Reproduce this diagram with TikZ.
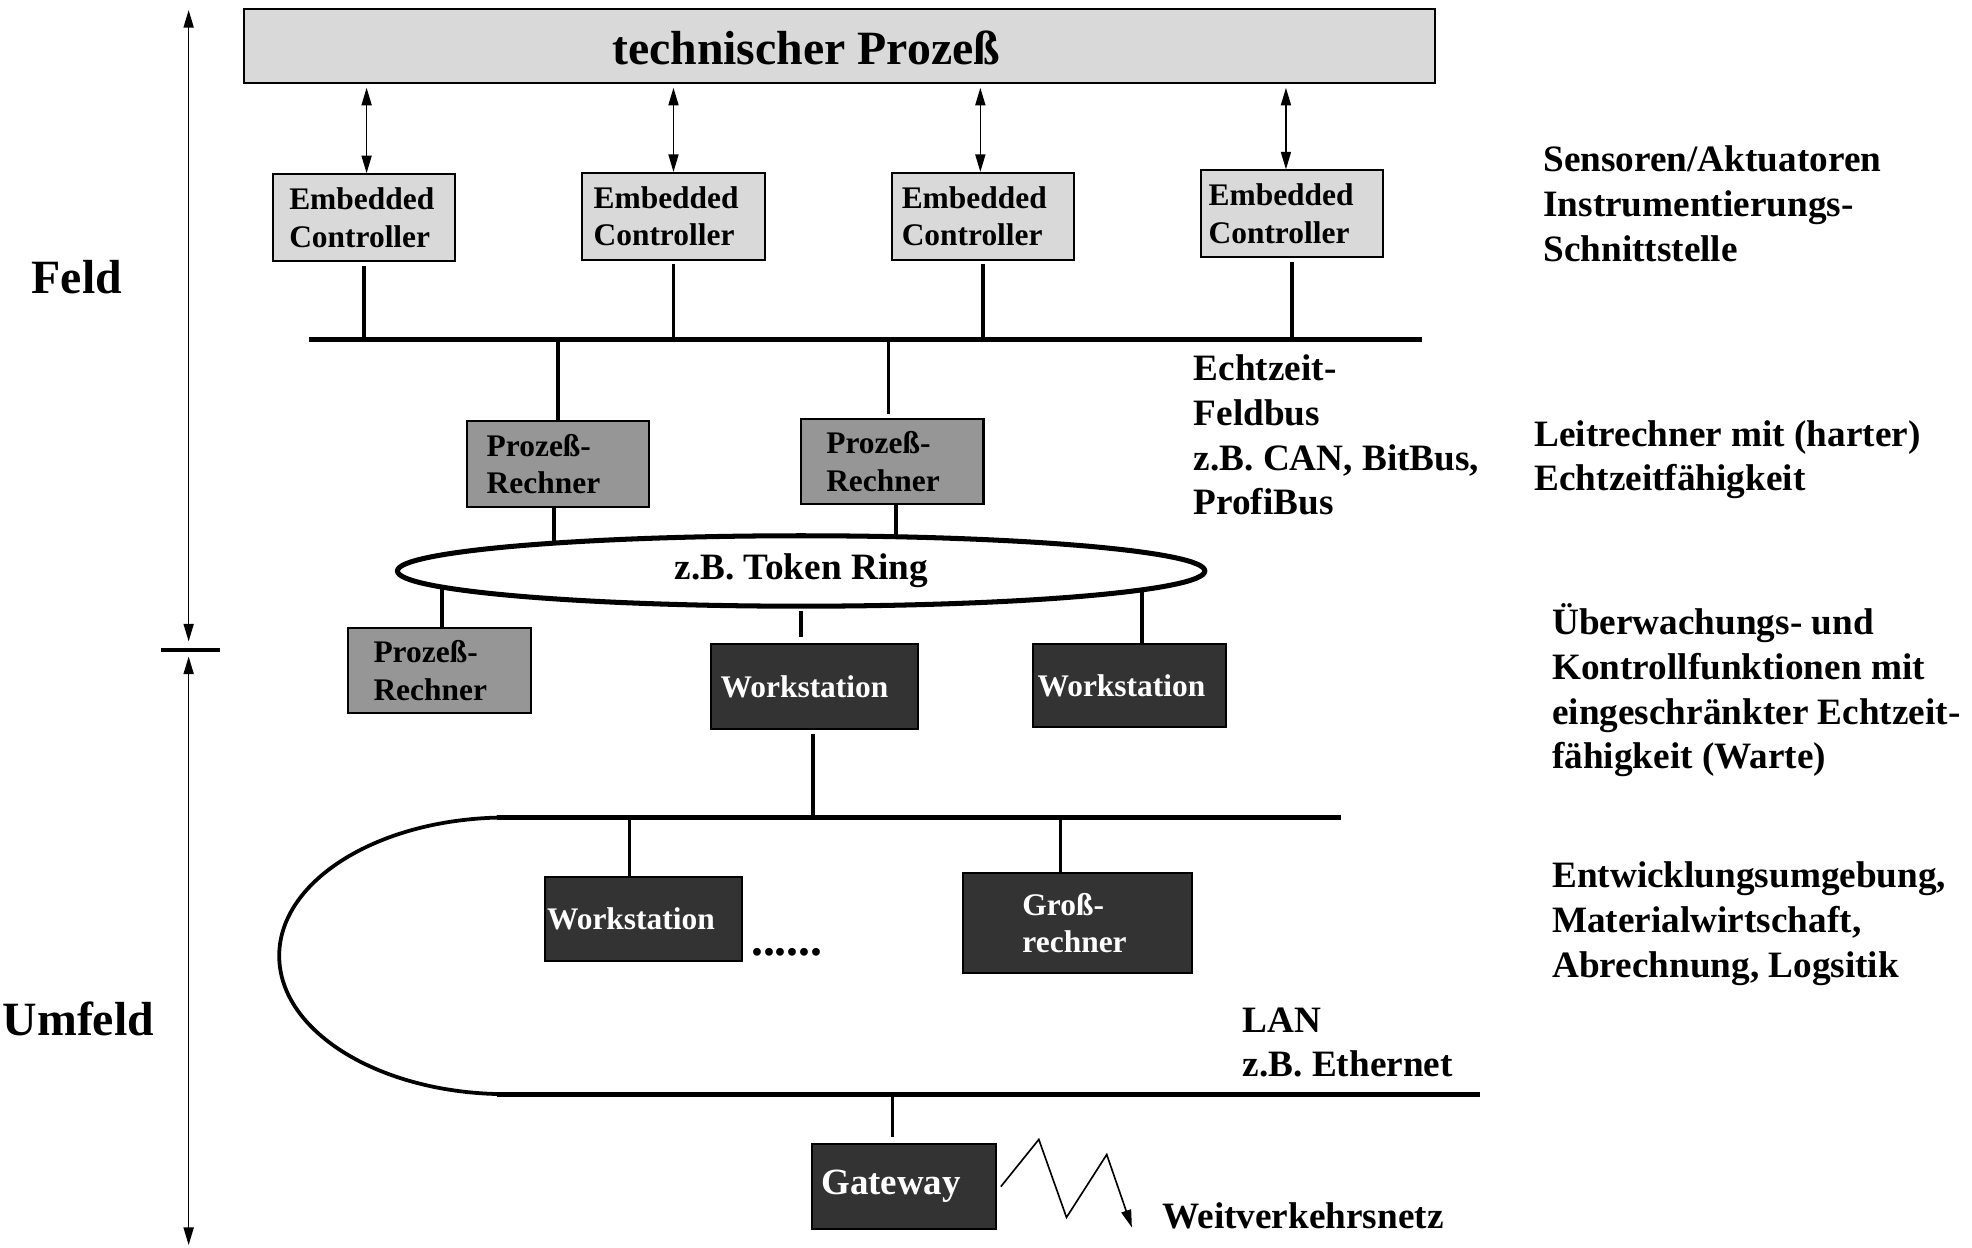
\documentclass[tikz,border=0pt]{standalone}
\usepackage{fontspec}
\setmainfont{Liberation Serif}
\usepackage{xcolor}
\usepackage{tikz}
\usetikzlibrary{shapes.geometric, arrows.meta}
\pgfdeclarelayer{hinten}
\pgfsetlayers{hinten,main}
\definecolor{hellgrau}{HTML}{D9D9D9}
\definecolor{mittelgrau}{HTML}{969696}
\definecolor{dunkelgrau}{HTML}{333333}
\tikzstyle{box} = [draw, line width=1.6pt, inner ysep=0pt, align=left, font=\fontsize{25}{30}\selectfont\bfseries]
\tikzstyle{ecbox} = [box, fill=hellgrau, minimum height=69pt]
\tikzstyle{prbox} = [box, fill=mittelgrau, minimum height=68pt]
\tikzstyle{wsbox} = [box, fill=dunkelgrau, text=white]
\tikzstyle{bus} = [line width=4pt]
\tikzstyle{conn} = [line width=3pt]
\tikzstyle{thinconn} = [line width=2.4pt]
\tikzstyle{darrow} = [line width=1.3pt, {Triangle[length=14pt,width=8pt]}-{Triangle[length=14pt,width=8pt]}]
\tikzstyle{txt} = [anchor=west, align=left, inner sep=0pt, font=\fontsize{29.6}{35.5}\selectfont\bfseries]
\tikzstyle{bigtxt} = [anchor=west, inner sep=0pt, font=\fontsize{38}{45}\selectfont\bfseries]

\begin{document}
\begin{tikzpicture}[x=1pt, y=-1pt]
    \useasboundingbox (0,0) rectangle (1568,992);
    % Feld / Umfeld
    \coordinate (feldtop) at (150,8);
    \coordinate (feldbot) at (150,510);
    \coordinate (umtop) at (150,522);
    \coordinate (umbot) at (150,990);
    \coordinate (trenn-l) at (128,517);
    \coordinate (trenn-r) at (175,517);
    \draw[darrow] (feldtop) -- (feldbot);
    \draw[darrow] (umtop) -- (umbot);
    \draw[line width=3pt] (trenn-l) -- (trenn-r);
    \node[bigtxt] at (25,220) {Feld};
    \node[bigtxt] at (2,810) {Umfeld};

    \node[draw, fill=hellgrau, line width=1.6pt, minimum width=947pt, minimum height=59pt] (prozess) at (667.5,36.5) {};
    \node[bigtxt, anchor=center] at (641,38) {technischer Proze\ss};

    \node[ecbox, inner xsep=13pt, text width=119pt] (ec1) at (289.5,173) {Embedded\\Controller};
    \node[ecbox, inner xsep=9pt, text width=127pt] (ec2) at (535.5,172) {Embedded\\Controller};
    \node[ecbox, inner xsep=8pt, text width=129pt] (ec3) at (781.5,172) {Embedded\\Controller};
    \node[ecbox, inner xsep=6pt, text width=133pt] (ec4) at (1027.5,170) {Embedded\\Controller};
    \draw[darrow, shorten <=3pt] ([xshift=2pt]ec1.north |- prozess.south) -- ([xshift=2pt]ec1.north);
    \draw[darrow, shorten <=3pt] (ec2.north |- prozess.south) -- (ec2.north);
    \draw[darrow, shorten <=3pt] ([xshift=-2pt]ec3.north |- prozess.south) -- ([xshift=-2pt]ec3.north);
    \draw[darrow, shorten <=3pt] ([xshift=-5pt]ec4.north |- prozess.south) -- ([xshift=-5pt]ec4.north);

    % Feldbus
    \coordinate (fb-l) at (246,270);
    \coordinate (fb-r) at (1131,270);
    \draw[bus] (fb-l) -- (fb-r);
    \foreach \n in {ec1,ec2,ec3,ec4}
        \draw[conn, shorten <=3pt] (\n.south) -- (\n.south |- fb-l);

    \node[prbox, inner xsep=16pt, text width=113pt] (pr1) at (443.5,369) {Proze\ss-\\Rechner};
    \node[prbox, inner xsep=20pt, text width=105pt] (pr2) at (709.5,367) {Proze\ss-\\Rechner};
    \draw[conn] (pr1.north |- fb-l) -- (pr1.north);
    \draw[conn, shorten >=3pt] ([xshift=-3pt]pr2.north |- fb-l) -- ([xshift=-3pt]pr2.north);
    \node[txt] at (949,346) {Echtzeit-\\Feldbus\\z.B. CAN, BitBus,\\ProfiBus};

    % Token Ring
    \node[ellipse, draw, fill=white, line width=4pt, minimum width=642pt, minimum height=56pt, inner sep=0pt, font=\fontsize{29.6}{35}\selectfont\bfseries] (ring) at (637,454) {\raisebox{-3pt}{z.B. Token Ring}};
    \node[prbox, inner xsep=20pt, text width=105pt] (pr3) at (349.5,533) {Proze\ss-\\Rechner};
    \node[wsbox, inner xsep=8pt, text width=149pt, minimum height=68pt] (ws1) at (647.5,546) {Workstation};
    \node[wsbox, inner xsep=4pt, text width=146pt, minimum height=66pt] (ws2) at (898,545) {Workstation};
    \begin{pgfonlayer}{hinten}
        \draw[conn] ([xshift=-3pt]pr1.south) -- ([xshift=-3pt]pr1.south |- ring.center);
        \draw[conn] ([xshift=3pt]pr2.south) -- ([xshift=3pt]pr2.south |- ring.center);
        \draw[conn] ([xshift=2pt]pr3.north) -- ([xshift=2pt]pr3.north |- ring.center);
        \draw[conn] ([xshift=10pt]ws2.north) -- ([xshift=10pt]ws2.north |- ring.center);
    \end{pgfonlayer}
    \draw[conn, shorten <=2pt, shorten >=5pt] (ring.south) -- (ring.south |- ws1.north);

    % LAN
    \coordinate (lan-o) at (395,650);
    \coordinate (lan-or) at (1066,650);
    \coordinate (lan-u) at (395,870);
    \coordinate (lan-ur) at (1177,870);
    \draw[bus] (lan-o) -- (lan-or);
    \draw[bus] (lan-u) -- (lan-ur);
    \draw[line width=3pt] ([xshift=8pt]lan-o) arc[start angle=270, end angle=90, x radius=181, y radius=110];
    \draw[conn, shorten <=3pt] ([xshift=-1pt]ws1.south) -- ([xshift=-1pt]ws1.south |- lan-o);

    \node[wsbox, inner xsep=2pt, text width=153pt, minimum height=67pt] (ws3) at (511.5,730.5) {Workstation};
    \node[wsbox, inner xsep=47pt, text width=88pt, minimum height=80pt] (gross) at (857,734) {Gro\ss-\\rechner};
    \draw[thinconn] ([xshift=-11pt]ws3.north |- lan-o) -- ([xshift=-11pt]ws3.north);
    \draw[thinconn] ([xshift=-14pt]gross.north |- lan-o) -- ([xshift=-14pt]gross.north);
    \node[anchor=west, inner sep=0pt, font=\fontsize{38}{40}\selectfont\bfseries] at (597,757) {......};
    \node[txt] at (988,829) {LAN\\z.B. Ethernet};

    \node[wsbox, inner xsep=7pt, text width=132pt, minimum height=67pt, font=\fontsize{29.4}{34}\selectfont\bfseries] (gw) at (719,943.5) {\raisebox{-3pt}{Gateway}};
    \draw[thinconn, shorten >=5pt] ([xshift=-9pt]gw.north |- lan-u) -- ([xshift=-9pt]gw.north);
    \coordinate (wan) at (900,976);
    \draw[line width=1.3pt, -{Triangle[length=14pt,width=8pt]}] ([xshift=3pt]gw.east) -- (826,906) -- (848,968) -- (880,918) -- (wan);
    \node[txt] at (924,967) {Weitverkehrsnetz};

    % Ebenen
    \node[txt] at (1227,162) {Sensoren/Aktuatoren\\Instrumentierungs-\\Schnittstelle};
    \node[txt] at (1220,365.5) {Leitrechner mit (harter)\\Echtzeitf\"ahigkeit};
    \node[txt] at (1234,549) {\"Uberwachungs- und\\Kontrollfunktionen mit\\eingeschr\"ankter Echtzeit-\\f\"ahigkeit (Warte)};
    \node[txt] at (1234,734.5) {Entwicklungsumgebung,\\Materialwirtschaft,\\Abrechnung, Logsitik};
\end{tikzpicture}
\end{document}
